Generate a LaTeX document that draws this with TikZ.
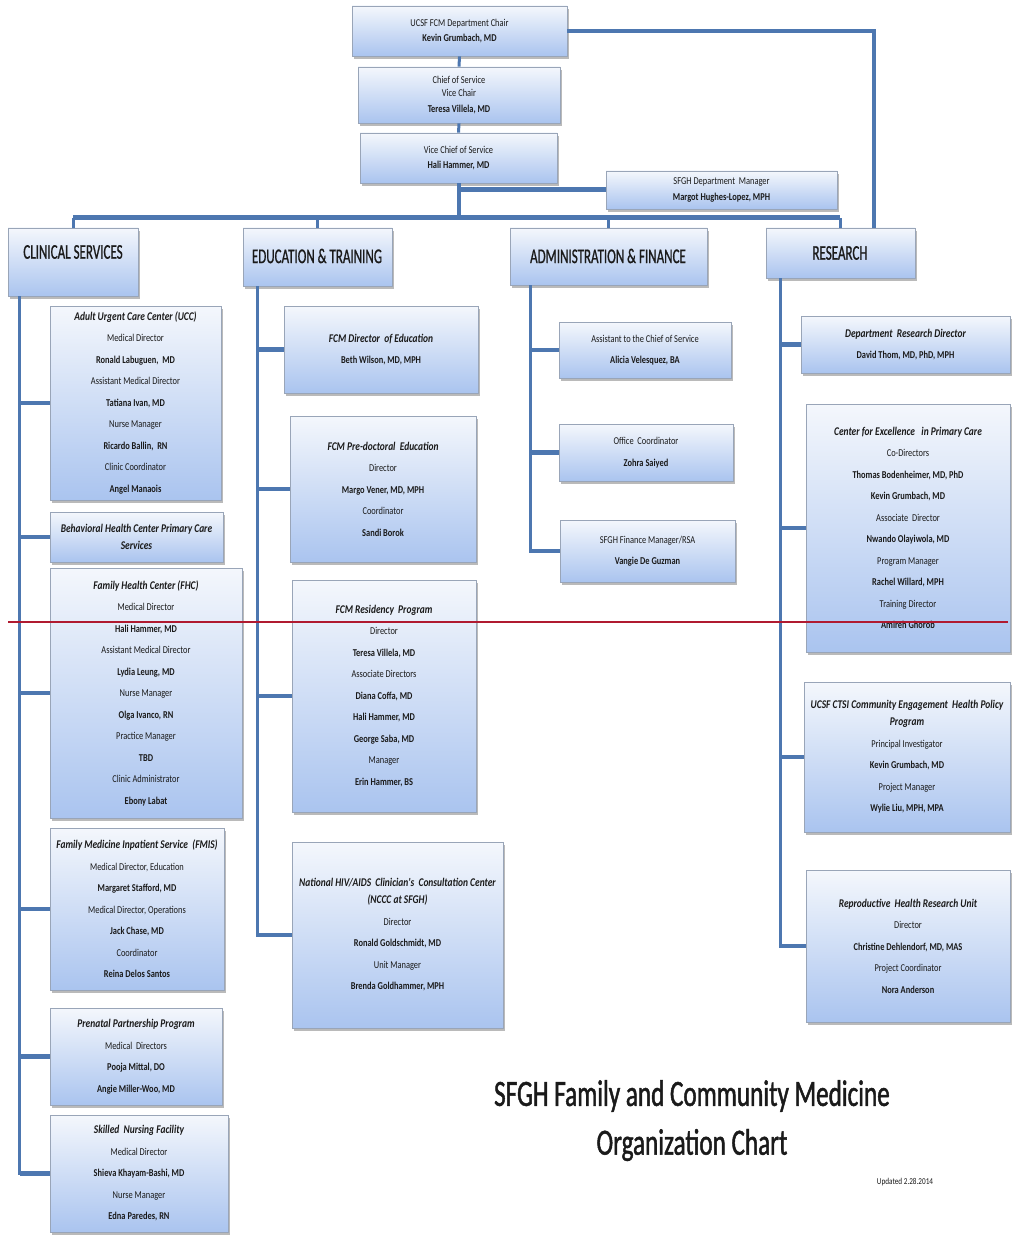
\documentclass[tikz,border=0pt]{standalone}
\usepackage{fontspec}
\setmainfont{Carlito}
\newfontfamily\cf[FakeStretch=0.8]{Carlito}
\newfontfamily\hf[FakeStretch=0.62,FakeBold=0.8]{Carlito}
\newfontfamily\tf[FakeStretch=0.68,FakeBold=1.2]{Carlito}
\usetikzlibrary{shadows}
\definecolor{boxtop}{HTML}{F4F7FC}
\definecolor{boxbot}{HTML}{AAC4EF}
\definecolor{boxline}{HTML}{99A5B8}
\definecolor{conn}{HTML}{4D77B0}
\definecolor{redline}{HTML}{B01A30}
\definecolor{ink}{HTML}{1A1A1A}
\tikzset{
 box/.style={draw=boxline, line width=0.8pt, top color=boxtop, bottom color=boxbot,
   drop shadow={shadow xshift=2pt, shadow yshift=-3pt, opacity=0.45, fill=black!60},
   inner sep=0pt, align=center, text=ink, font=\cf\fontsize{10.5}{21.5}\selectfont},
 topbox/.style={box, font=\cf\fontsize{10.5}{15.5}\selectfont},
 hdr/.style={font=\hf\fontsize{21}{24}\selectfont, inner sep=0pt, text=ink},
 link/.style={draw=conn, line width=3pt},
 stub/.style={draw=conn, line width=4.5pt},
}
\newcommand\ttl[1]{{\fontsize{11.8}{21.5}\selectfont\bfseries\itshape #1}}
\newcommand\obox[7][box]{\node[#1, minimum width={(#5)-(#3)}, minimum height={(#6)-(#4)}] (#2) at ({((#3)+(#5))/2},{((#4)+(#6))/2}) {#7};}
\begin{document}
\begin{tikzpicture}[x=1pt,y=-1pt]
\useasboundingbox (0,0) rectangle (1012,1238);
\fill[white] (0,0) rectangle (1012,1238);

% top
\obox[topbox]{chair}{352}{6}{567}{56}{UCSF FCM Department Chair\\\textbf{Kevin Grumbach, MD}}
\obox[topbox]{chief}{358}{67}{560}{123}{Chief of Service\\[-2.5pt]Vice Chair\\\textbf{Teresa Villela, MD}}
\obox[topbox]{vchief}{360}{133}{557}{183}{Vice Chief of Service\\\textbf{Hali Hammer, MD}}
\obox[topbox]{mgr}{606}{171}{837}{209}{SFGH Department\ \ Manager\\\textbf{Margot Hughes-Lopez, MPH}}

% headers
\obox{clin}{8}{228}{138}{296}{}
\node[hdr] (clinT) at (73,252) {CLINICAL SERVICES};
\obox{edu}{243}{228}{392}{286}{}
\node[hdr] (eduT) at (317,256) {EDUCATION \& TRAINING};
\obox{adm}{510}{228}{707}{285}{}
\node[hdr] (admT) at (608,256) {ADMINISTRATION \& FINANCE};
\obox{res}{766}{228}{915}{278}{}
\node[hdr] (resT) at (840,253) {RESEARCH};

% clinical
\obox{ucc}{50}{306}{221}{500}{\ttl{Adult Urgent Care Center (UCC)}\\Medical Director\\\textbf{Ronald Labuguen,\ \ MD}\\Assistant Medical Director\\\textbf{Tatiana Ivan, MD}\\Nurse Manager\\\textbf{Ricardo Ballin,\ \ RN}\\Clinic Coordinator\\\textbf{Angel Manaois}}
\obox{bhc}{50}{512}{223}{562}{\ttl{Behavioral Health Center Primary Care}\\[-4.5pt]\ttl{Services}}
\obox{fhc}{50}{568}{242}{818}{\ttl{Family Health Center (FHC)}\\Medical Director\\\textbf{Hali Hammer, MD}\\Assistant Medical Director\\\textbf{Lydia Leung, MD}\\Nurse Manager\\\textbf{Olga Ivanco, RN}\\Practice Manager\\\textbf{TBD}\\Clinic Administrator\\\textbf{Ebony Labat}}
\obox{fmis}{50}{828}{224}{990}{\ttl{Family Medicine Inpatient Service\ \ (FMIS)}\\Medical Director, Education\\\textbf{Margaret Stafford, MD}\\Medical Director, Operations\\\textbf{Jack Chase, MD}\\Coordinator\\\textbf{Reina Delos Santos}}
\obox{ppp}{50}{1008}{222}{1105}{\ttl{Prenatal Partnership Program}\\Medical\ \ Directors\\\textbf{Pooja Mittal, DO}\\\textbf{Angie Miller-Woo, MD}}
\obox{snf}{50}{1115}{228}{1232}{\ttl{Skilled\ \ Nursing Facility}\\Medical Director\\\textbf{Shieva Khayam-Bashi, MD}\\Nurse Manager\\\textbf{Edna Paredes, RN}}

% education
\obox{dir}{284}{306}{478}{393}{\ttl{FCM Director\ \ of Education}\\\textbf{Beth Wilson, MD, MPH}}
\obox{pre}{290}{416}{476}{562}{\ttl{FCM Pre-doctoral\ \ Education}\\Director\\\textbf{Margo Vener, MD, MPH}\\Coordinator\\\textbf{Sandi Borok}}
\obox{resid}{292}{580}{476}{812}{\ttl{FCM Residency\ \ Program}\\Director\\\textbf{Teresa Villela, MD}\\Associate Directors\\\textbf{Diana Coffa, MD}\\\textbf{Hali Hammer, MD}\\\textbf{George Saba, MD}\\Manager\\\textbf{Erin Hammer, BS}}
\obox{nccc}{292}{842}{503}{1028}{\ttl{National HIV/AIDS\ \ Clinician's\ \ Consultation Center}\\[-4.5pt]\ttl{(NCCC at SFGH)}\\Director\\\textbf{Ronald Goldschmidt, MD}\\Unit Manager\\\textbf{Brenda Goldhammer, MPH}}

% admin
\obox{asst}{559}{322}{731}{378}{Assistant to the Chief of Service\\\textbf{Alicia Velesquez, BA}}
\obox{office}{559}{424}{733}{481}{Office\ \ Coordinator\\\textbf{Zohra Saiyed}}
\obox{fin}{560}{520}{735}{582}{SFGH Finance Manager/RSA\\\textbf{Vangie De Guzman}}

% research
\obox{rdir}{801}{316}{1010}{373}{\ttl{Department\ \ Research Director}\\\textbf{David Thom, MD, PhD, MPH}}
\obox{cepc}{806}{404}{1010}{652}{\ttl{Center for Excellence\ \ \ in Primary Care}\\Co-Directors\\\textbf{Thomas Bodenheimer,\ MD, PhD}\\\textbf{Kevin Grumbach, MD}\\Associate\ \ Director\\\textbf{Nwando Olayiwola, MD}\\Program Manager\\\textbf{Rachel Willard, MPH}\\Training Director\\\textbf{Amireh Ghorob}}
\obox{ctsi}{804}{682}{1010}{832}{\ttl{UCSF CTSI Community Engagement\ \ Health Policy}\\[-4.5pt]\ttl{Program}\\Principal Investigator\\\textbf{Kevin Grumbach, MD}\\Project Manager\\\textbf{Wylie Liu, MPH, MPA}}
\obox{rhru}{806}{870}{1010}{1022}{\ttl{Reproductive\ \ Health Research Unit}\\Director\\\textbf{Christine Dehlendorf, MD, MAS}\\Project Coordinator\\\textbf{Nora Anderson}}

% top connectors
\draw[link] (chair.south) -- (chief.north);
\draw[link] (chief.south) -- (vchief.north);
\coordinate (busL) at (73,218);
\coordinate (busR) at (840,218);
\draw[link, line width=5pt] (busL) -- (busR);
\draw[link, line width=4pt] (vchief.south) -- (vchief.south |- busL);
\draw[link, line width=5pt] (vchief.south |- mgr.west) -- (mgr.west);
\foreach \h in {clin,edu,adm,res} \draw[link] (\h.north) -- (\h.north |- busL);
\draw[link, line width=4pt] (chair.east) -| ([xshift=33.5pt]res.north);

% spines
\coordinate (cs) at ([xshift=12pt]clin.south west);
\draw[link] (cs) |- (snf.west);
\foreach \b in {ucc,bhc,fhc,fmis,ppp,snf} \draw[stub] (cs |- \b.west) -- (\b.west);
\coordinate (es) at ([xshift=15pt]edu.south west);
\draw[link] (es) |- (nccc.west);
\foreach \b in {dir,pre,resid,nccc} \draw[stub] (es |- \b.west) -- (\b.west);
\coordinate (as) at ([xshift=21pt]adm.south west);
\draw[link] (as) |- (fin.west);
\foreach \b in {asst,office,fin} \draw[stub] (as |- \b.west) -- (\b.west);
\coordinate (rs) at ([xshift=15pt]res.south west);
\draw[link] (rs) |- (rhru.west);
\foreach \b in {rdir,cepc,ctsi,rhru} \draw[stub] (rs |- \b.west) -- (\b.west);

% title
\node[font=\tf\fontsize{37}{40}\selectfont, inner sep=0pt, text=ink] (t1) at (692,1096) {SFGH Family and Community Medicine};
\node[font=\tf\fontsize{37}{40}\selectfont, inner sep=0pt, text=ink] (t2) at (692,1145) {Organization Chart};
\node[font=\cf\fontsize{9}{10}\selectfont, inner sep=0pt, text=ink] (upd) at (905,1182) {Updated 2.28.2014};

% red rule
\coordinate (rl1) at (8,622);
\coordinate (rl2) at (1008,622);
\draw[redline, line width=2pt] (rl1) -- (rl2);
\end{tikzpicture}
\end{document}
